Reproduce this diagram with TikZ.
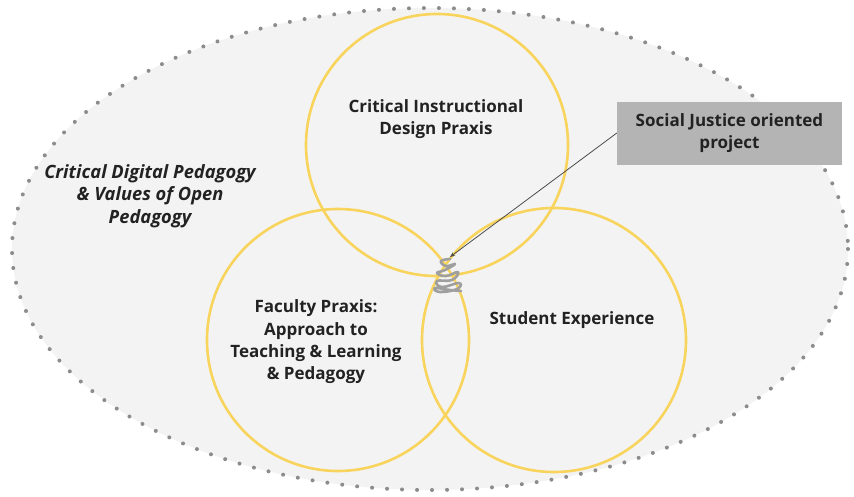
\documentclass[tikz,border=0pt]{standalone}
\usepackage{fontspec}
\setmainfont{Open Sans}
\usetikzlibrary{arrows.meta}
\definecolor{ellfill}{HTML}{F3F3F3}
\definecolor{dotcol}{HTML}{8C8C8C}
\definecolor{ring}{HTML}{F8D45C}
\definecolor{boxfill}{HTML}{B4B4B4}
\definecolor{txt}{HTML}{222222}
\tikzset{
  venn/.style={draw=ring, line width=2.6pt},
  lbl/.style={font=\bfseries\fontsize{17}{22.3}\selectfont, text=txt, align=center},
}
\begin{document}
\begin{tikzpicture}[x=1pt,y=-1pt]
\useasboundingbox (0,0) rectangle (854,496);
\fill[ellfill] (430,249) ellipse [x radius=418, y radius=241];
\draw[dotcol, line width=4pt, line cap=round, dash pattern=on 0pt off 15pt] (430,249) ellipse [x radius=418, y radius=241];
\draw[venn] (437,145) circle [radius=131];
\draw[venn] (338,340) circle [radius=131];
\draw[venn] (554,340) circle [radius=132];
\node[lbl] (cid) at (436,119) {Critical Instructional\\Design Praxis};
\node[lbl, font=\bfseries\itshape\fontsize{18.3}{22.3}\selectfont] (cdp) at (150,196) {Critical Digital Pedagogy\\\& Values of Open\\Pedagogy};
\node[lbl] (fac) at (316,342) {Faculty Praxis:\\Approach to\\Teaching \& Learning\\\& Pedagogy};
\node[lbl] (stu) at (572,320) {Student Experience};
\node[lbl, fill=boxfill, minimum width=225, minimum height=63, inner sep=0pt] (sj) at (729.5,133) {Social Justice oriented\\project};
\coordinate (tip) at (450,257);
\draw[line width=2.6pt, line join=round, line cap=round, color=gray!75]
  plot[smooth, tension=0.8] coordinates {(450,259) (441,261) (446,266) (455,264) (445,270) (437,273) (446,276) (458,272) (452,280) (437,281) (442,287) (459,283) (457,289) (440,292) (435,288) (450,290) (461,291)};
\draw[line width=0.8pt, color=black!70, -{Stealth[length=5pt,width=4pt]}] (sj.west) -- (tip);
\end{tikzpicture}
\end{document}
